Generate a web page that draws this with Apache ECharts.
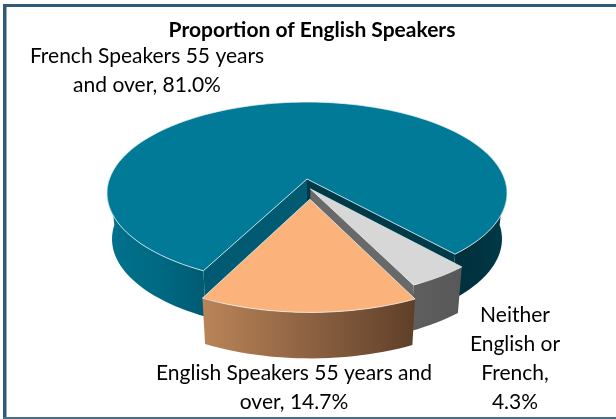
<!DOCTYPE html>
<html>
<head>
<meta charset="utf-8">
<style>
html, body { margin: 0; padding: 0; background: #fff; }
#chart { width: 616px; height: 419px; }
</style>
<script src="https://cdn.jsdelivr.net/npm/echarts@6/dist/echarts.min.js"></script>
</head>
<body>
<div id="chart"></div>
<script>
const categories = ['French Speakers 55 years and over', 'Neither English or French', 'English Speakers 55 years and over']
const shares = [81.0, 4.3, 14.7]
const labelLines = [
  ['French Speakers 55 years', 'and over, 81.0%'],
  ['Neither', 'English or', 'French,', '4.3%'],
  ['English Speakers 55 years and', 'over, 14.7%']
]

// pie lies on a tilted plane, these come from measuring the ellipse in the picture
const cx = 307, cy = 179
const A = 197.6, B = 88.8, K = 0.154
const depth = 46, bottomScale = 0.975
const startAngle = 116.9

const sliceStyle = [
  { top: '#017a97', explode: [0, 0], label: [147, 70.5] },
  { top: '#d7d7d7', explode: [0.017, 0.11], label: [515, 358.5] },
  { top: '#fbb27b', explode: [0.014, 0.22], label: [294, 388] }
]

// unit circle -> screen
function project(u, v) {
  const w = 1 - K * v
  return [cx + A * u / w, cy + B * v / w]
}
function lower(p) {
  return [cx + (p[0] - cx) * bottomScale, p[1] + depth]
}
function arc(a0, a1, off) {
  const pts = []
  const n = Math.max(2, Math.ceil(Math.abs(a1 - a0) / 2))
  for (let i = 0; i <= n; i++) {
    const t = (a0 + (a1 - a0) * i / n) * Math.PI / 180
    pts.push(project(Math.cos(t) + off[0], Math.sin(t) + off[1]))
  }
  return pts
}
function grad(stops) {
  return new echarts.graphic.LinearGradient(0, 0, 1, 0, stops.map((c, i) => ({ offset: i / (stops.length - 1), color: c })))
}
function wall(a0, a1, off, fill) {
  const top = arc(a0, a1, off)
  const bottom = top.map(lower).reverse()
  return { type: 'polygon', shape: { points: top.concat(bottom) }, style: { fill: fill } }
}
function radial(a, off, fill) {
  const t = a * Math.PI / 180
  const c = project(off[0], off[1])
  const e = project(Math.cos(t) + off[0], Math.sin(t) + off[1])
  return { type: 'polygon', shape: { points: [c, e, lower(e), lower(c)] }, style: { fill: fill } }
}
function face(a0, a1, off, fill) {
  return {
    type: 'polygon',
    shape: { points: [project(off[0], off[1])].concat(arc(a0, a1, off)) },
    style: { fill: fill, stroke: 'rgba(235,245,245,0.75)', lineWidth: 1, lineJoin: 'round' }
  }
}

function renderSlice(params, api) {
  const i = params.dataIndex
  const total = shares.reduce((s, v) => s + v, 0)
  let before = 0
  for (let k = 0; k < i; k++) before += shares[k]
  const a0 = startAngle + before / total * 360
  const a1 = a0 + api.value(0) / total * 360
  const st = sliceStyle[i]
  const off = st.explode
  const children = []
  if (i === 0) {
    children.push(wall(a0, 180, off, grad(['#00718c', '#006a84', '#005a72'])))
    children.push(wall(360, a1, off, grad(['#002f3b', '#003340', '#003b49'])))
    children.push(radial(a0, off, '#005a72'))
    children.push(radial(a1, off, '#003a48'))
  } else if (i === 1) {
    children.push(wall(a0, a1, off, grad(['#5f5f5f', '#585858'])))
    children.push(radial(a1, off, '#696969'))
  } else {
    children.push(wall(a0, a1, off, grad(['#ba8458', '#8d6242', '#5f3f28'])))
  }
  children.push(face(a0, a1, off, st.top))
  return { type: 'group', children: children }
}

// labels go on their own series so that no slice paints over them
function renderLabel(params, api) {
  const i = params.dataIndex
  return {
    type: 'text',
    x: sliceStyle[i].label[0],
    y: sliceStyle[i].label[1],
    style: {
      text: labelLines[i].join('\n'),
      fill: '#000',
      font: '21px Lato',
      lineHeight: 29,
      align: 'center',
      verticalAlign: 'middle'
    }
  }
}

const chart = echarts.init(document.getElementById('chart'), null, { renderer: 'canvas' })
chart.setOption({
  backgroundColor: '#fff',
  animation: false,
  title: {
    text: 'Proportion of English Speakers',
    left: 307,
    top: 15,
    textAlign: 'center',
    textStyle: { fontFamily: 'Lato', fontSize: 21, fontWeight: 'bold', color: '#000' }
  },
  graphic: [
    { type: 'rect', shape: { x: 3, y: 4, width: 613, height: 3 }, style: { fill: '#2f5a7a' } },
    { type: 'rect', shape: { x: 3, y: 4, width: 3.5, height: 415 }, style: { fill: '#2f5a7a' } },
    { type: 'rect', shape: { x: 3, y: 417, width: 613, height: 2 }, style: { fill: '#4a6f87' } }
  ],
  series: [
    {
      type: 'custom',
      coordinateSystem: 'none',
      renderItem: renderSlice,
      data: shares.map((v, i) => ({ name: categories[i], value: [v] })),
      z: 2
    },
    {
      type: 'custom',
      coordinateSystem: 'none',
      renderItem: renderLabel,
      data: shares.map((v, i) => ({ name: categories[i], value: [v] })),
      z: 3,
      silent: true
    }
  ]
})
</script>
</body>
</html>
